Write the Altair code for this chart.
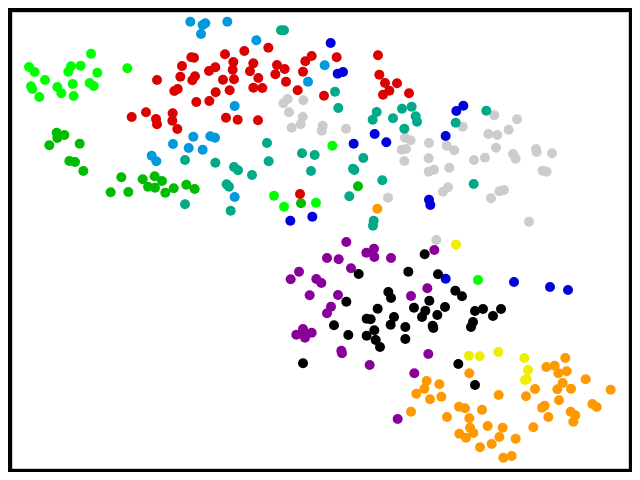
import altair as alt
import pandas as pd

# Point positions, in picture pixels.
# Zoom 1 values are x/3, y/3; zoom 2 are 320+x/3, y/3; zoom 3 are 270+x/3, 230+y/3; zoom 4 are 390+x/3, 340+y/3.
z1 = lambda L: [(x/3, y/3) for x, y in L]
z2 = lambda L: [(320+x/3, y/3) for x, y in L]
z3 = lambda L: [(270+x/3, 230+y/3) for x, y in L]
z4 = lambda L: [(390+x/3, 340+y/3) for x, y in L]

red = z1([(395,351),(438,337),(468,357),(471,373),(518,340),(517,362),(532,387),(471,240),(541,230),(546,198),(574,172),(582,173),(585,229),(577,241),(533,267),(523,273),(589,306),(628,303),(647,277),(627,213),(646,202),(669,239),(675,163),(700,186),(698,209),(702,238),(689,271),(733,153),(760,190),(750,214),(775,234),(760,263),(787,264),(805,143),(831,195),(854,207),(826,223),(858,245),(893,271),(909,215),(916,184),(935,168),(678,353),(713,359),(774,361),(900,582)]) + z2([(12,287),(50,172),(174,166),(178,224),(195,249),(231,250),(208,272),(189,284),(267,280)])
sky = z1([(571,65),(616,70),(608,75),(603,102),(682,65),(769,121),(924,245),(704,318),(580,410),(519,432),(566,444),(608,449),(631,409),(645,413),(455,467),(469,484),(704,591)]) + z2([(14,196)])
teal = z1([(843,91),(852,91),(801,429),(906,460),(944,465),(933,513),(806,484),(555,480),(646,488),(702,501),(714,511),(756,525),(680,553),(687,560),(555,613),(692,632)]) + z2([(45,275),(55,324),(170,336),(158,359),(219,355),(246,326),(275,320),(287,349),(291,365),(253,386),(407,368),(499,332),(130,474),(99,506),(103,510),(187,541),(88,589),(461,552),(161,662),(159,677)])
lime = z1([(87,201),(104,216),(135,240),(93,259),(97,267),(118,291),(172,261),(184,280),(221,288),(218,252),(205,215),(213,199),(242,197),(273,161),(292,218),(269,249),(281,258),(382,205),(822,587),(852,620),(948,608)]) + z2([(37,437)]) + [(478,280)]
green = z1([(170,398),(193,405),(172,414),(148,436),(239,431),(208,483),(225,486),(250,513),(364,532),(428,538),(464,529),(486,543),(444,560),(465,563),(496,578),(521,565),(559,554),(584,567),(332,577),(385,576),(903,610)]) + z2([(114,559)])
blue = z1([(871,662),(937,650)]) + z2([(32,129),(53,221),(69,216),(430,317),(409,333),(164,402),(199,427),(101,431),(377,408),(327,599),(331,615)]) + z3([(527,146)]) + [(514,282),(550,287),(568,290)]
grey = z1([(863,297),(850,310),(910,301),(867,337),(908,351),(902,373),(875,383)]) + z2([(8,377),(5,392),(78,386),(523,346),(591,358),(566,389),(505,402),(532,405),(428,380),(255,413),(272,421),(327,429),(380,437),(403,451),(528,443),(245,449),(258,447),(253,483),(326,475),(462,480),(495,473),(579,462),(587,476),(648,447),(650,456),(696,460),(668,512),(680,515),(388,503),(342,509),(326,515),(204,593),(384,562),(369,575),(552,570),(538,574),(513,595),(627,665),(349,720)])
yellow = z3([(558,44)]) + z4([(237,47),(269,49),(325,36),(403,54),(414,90),(410,118),(405,120)])
orange = z2([(172,626)]) + z4([(238,100),(110,123),(148,133),(103,146),(79,161),(120,178),(154,170),(63,215),(171,231),(207,200),(225,205),(276,209),(238,235),(240,263),(250,279),(208,281),(228,293),(293,258),(338,263),(328,291),(305,312),(270,322),(377,296),(365,348),(340,353),(326,165),(408,169),(435,147),(430,262),(464,197),(456,203),(475,231),(507,181),(502,148),(518,129),(543,146),(469,81),(494,77),(505,100),(530,94),(526,54),(587,118),(662,149),(607,192),(620,201),(542,215),(556,226),(550,245)])
purple = z3([(229,36),(171,84),(206,88),(289,68),(312,56),(313,81),(363,84),(243,115),(87,125),(62,148),(139,147),(154,159),(119,196),(204,195),(183,230),(171,250),(493,60),(472,175),(423,198),(99,297),(79,314),(125,308),(105,323),(102,310),(214,362),(216,370),(475,372),(299,405),(433,430)]) + z4([(23,237)])
black = z3([(464,73),(415,125),(504,133),(266,132),(556,182),(576,199),(355,186),(363,204),(229,215),(323,236),(478,212),(432,233),(525,231),(466,242),(502,255),(456,261),(372,261),(362,284),(406,291),(488,287),(490,294),(290,266),(302,268),(192,286),(235,315),(313,301),(290,317),(317,330),(330,351),(406,327),(99,400),(565,402)]) + [(475,311),(483,309),(493,316),(501,309),(471,327),(473,322),(475,385)]

series = [("grey", grey, "#cccccc"), ("yellow", yellow, "#eeee00"), ("orange", orange, "#ff9900"),
          ("teal", teal, "#00aa88"), ("sky", sky, "#0099dd"), ("lime", lime, "#00ff00"),
          ("green", green, "#00bb00"), ("red", red, "#dd0000"), ("blue", blue, "#0000dd"),
          ("purple", purple, "#880099"), ("black", black, "#000000")]

rows = [{"x": x, "y": y, "group": n, "order": i} for i, (n, pts, _) in enumerate(series) for x, y in pts]
df = pd.DataFrame(rows)

chart = alt.Chart(df).mark_circle(size=100, opacity=1).encode(
    x=alt.X("x:Q", axis=None, scale=alt.Scale(domain=[12, 628], nice=False, zero=False)),
    y=alt.Y("y:Q", axis=None, scale=alt.Scale(domain=[468, 12], nice=False, zero=False)),
    color=alt.Color("group:N", legend=None,
                    scale=alt.Scale(domain=[s[0] for s in series], range=[s[2] for s in series])),
    order="order:Q",
).properties(
    width=624, height=464,
    padding={"left": 4, "top": 4, "right": 4, "bottom": 4},
    background="black",
    autosize=alt.AutoSizeParams(type="fit", contains="padding"),
).configure_view(fill="white", stroke="#cccccc", strokeWidth=1)

chart.save("out.html", embed_options={"renderer": "svg", "actions": False})
